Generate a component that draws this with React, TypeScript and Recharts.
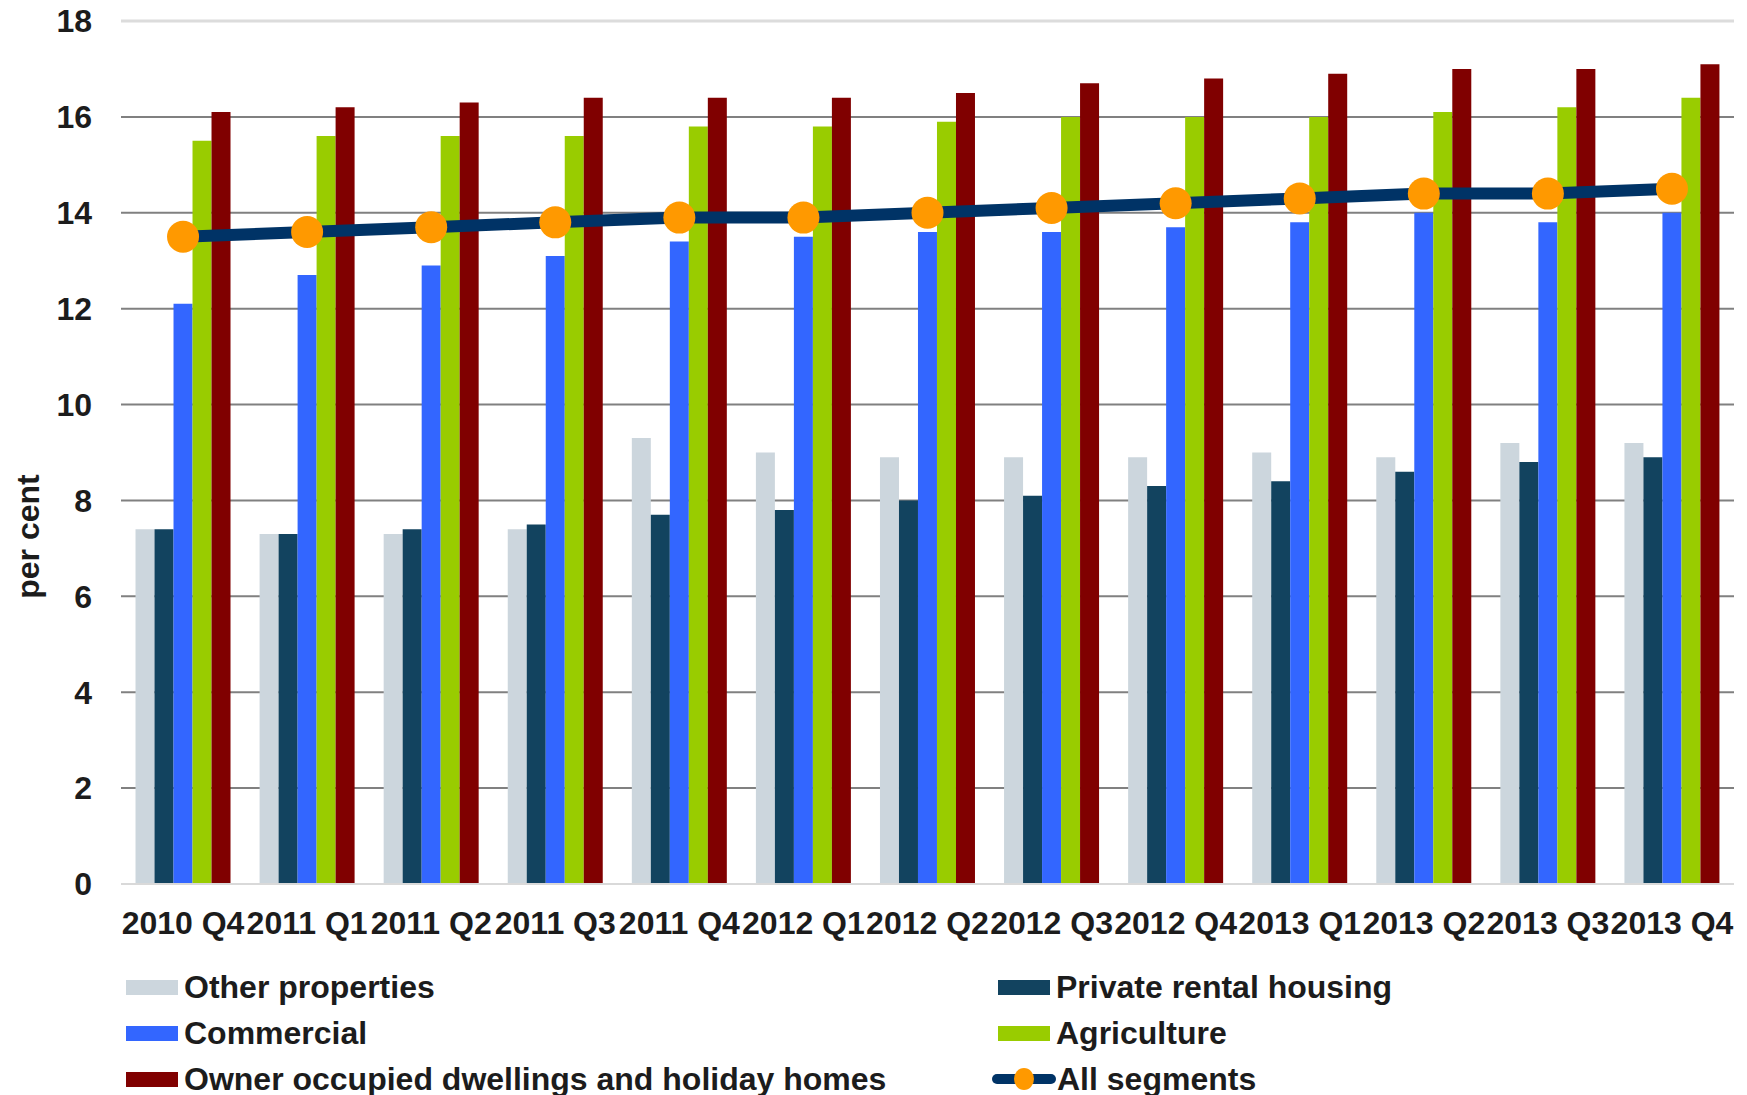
import {
  ComposedChart,
  Bar,
  Line,
  CartesianGrid,
  XAxis,
  YAxis,
  ReferenceLine,
  Label,
} from "recharts";

const categories = [
  "2010 Q4", "2011 Q1", "2011 Q2", "2011 Q3", "2011 Q4", "2012 Q1", "2012 Q2",
  "2012 Q3", "2012 Q4", "2013 Q1", "2013 Q2", "2013 Q3", "2013 Q4",
];
const otherProperties = [7.4, 7.3, 7.3, 7.4, 9.3, 9.0, 8.9, 8.9, 8.9, 9.0, 8.9, 9.2, 9.2];
const privateRental = [7.4, 7.3, 7.4, 7.5, 7.7, 7.8, 8.0, 8.1, 8.3, 8.4, 8.6, 8.8, 8.9];
const commercial = [12.1, 12.7, 12.9, 13.1, 13.4, 13.5, 13.6, 13.6, 13.7, 13.8, 14.0, 13.8, 14.0];
const agriculture = [15.5, 15.6, 15.6, 15.6, 15.8, 15.8, 15.9, 16.0, 16.0, 16.0, 16.1, 16.2, 16.4];
const ownerOccupied = [16.1, 16.2, 16.3, 16.4, 16.4, 16.4, 16.5, 16.7, 16.8, 16.9, 17.0, 17.0, 17.1];
const allSegments = [13.5, 13.6, 13.7, 13.8, 13.9, 13.9, 14.0, 14.1, 14.2, 14.3, 14.4, 14.4, 14.5];
const yTicks = [0, 2, 4, 6, 8, 10, 12, 14, 16, 18];

const data = categories.map((name, i) => ({
  name,
  other: otherProperties[i],
  rental: privateRental[i],
  commercial: commercial[i],
  agriculture: agriculture[i],
  owner: ownerOccupied[i],
  all: allSegments[i],
}));

const FONT = "'Liberation Sans', Arial, sans-serif";
const TEXT = "#1c1c1c";
const tickStyle = { fontFamily: FONT, fontWeight: 700, fontSize: 32, fill: TEXT };

const legendLeft = [
  { label: "Other properties", color: "#CCD6DD" },
  { label: "Commercial", color: "#3366FF" },
  { label: "Owner occupied dwellings and holiday homes", color: "#800000" },
];
const legendRight = [
  { label: "Private rental housing", color: "#12435F" },
  { label: "Agriculture", color: "#99CC00" },
  { label: "All segments", color: "line" },
];
const rowCenters = [987, 1033, 1079];

const LegendRow = ({ left, cy, label, color }: any) => (
  <div
    style={{
      position: "absolute",
      left,
      top: cy - 23,
      height: 46,
      display: "flex",
      alignItems: "center",
      fontFamily: FONT,
      fontWeight: 700,
      fontSize: 32,
      lineHeight: "32px",
      color: TEXT,
      whiteSpace: "nowrap",
    }}
  >
    {color === "line" ? (
      <svg width={64} height={24} style={{ marginLeft: -6, marginRight: 1 }}>
        <line x1={5} y1={12} x2={59} y2={12} stroke="#003366" strokeWidth={10} strokeLinecap="round" />
        <ellipse cx={32} cy={12} rx={10} ry={11} fill="#FF9900" />
      </svg>
    ) : (
      <div style={{ width: 52, height: 15, background: color, marginRight: 6 }} />
    )}
    <span>{label}</span>
  </div>
);

const App = () => {
  return (
    <div style={{ position: "absolute", left: 0, top: 0, width: 1747, height: 1095, background: "#fff" }}>
      <ComposedChart
        width={1747}
        height={960}
        data={data}
        margin={{ top: 21, right: 13, left: 0, bottom: 0 }}
        barCategoryGap="11.7%"
        barGap={0}
      >
        <CartesianGrid
          vertical={false}
          horizontalValues={[2, 4, 6, 8, 10, 12, 14, 16]}
          stroke="#808080"
          strokeWidth={2}
        />
        <XAxis
          dataKey="name"
          interval={0}
          height={76}
          tickLine={false}
          tickSize={0}
          tickMargin={27}
          axisLine={{ stroke: "#d9d9d9", strokeWidth: 2 }}
          tick={tickStyle}
        />
        <YAxis
          domain={[0, 18]}
          ticks={yTicks}
          interval={0}
          width={121}
          tickLine={false}
          axisLine={false}
          tickSize={0}
          tickMargin={29}
          tick={tickStyle}
        >
          <Label
            value="per cent"
            angle={-90}
            position="center"
            dx={-33}
            dy={84}
            style={{ fontFamily: FONT, fontWeight: 700, fontSize: 32, fill: TEXT }}
          />
        </YAxis>
        <ReferenceLine y={18} stroke="#dcdcdc" strokeWidth={3} />
        <Bar dataKey="other" name="Other properties" fill="#CCD6DD" isAnimationActive={false} />
        <Bar dataKey="rental" name="Private rental housing" fill="#12435F" isAnimationActive={false} />
        <Bar dataKey="commercial" name="Commercial" fill="#3366FF" isAnimationActive={false} />
        <Bar dataKey="agriculture" name="Agriculture" fill="#99CC00" isAnimationActive={false} />
        <Bar dataKey="owner" name="Owner occupied dwellings and holiday homes" fill="#800000" isAnimationActive={false} />
        <Line
          dataKey="all"
          name="All segments"
          stroke="#003366"
          strokeWidth={12}
          dot={{ r: 16, fill: "#FF9900", stroke: "none" }}
          activeDot={false}
          isAnimationActive={false}
        />
      </ComposedChart>
      {legendLeft.map((d, i) => (
        <LegendRow key={d.label} left={126} cy={rowCenters[i]} label={d.label} color={d.color} />
      ))}
      {legendRight.map((d, i) => (
        <LegendRow key={d.label} left={998} cy={rowCenters[i]} label={d.label} color={d.color} />
      ))}
    </div>
  );
};

export default App;
